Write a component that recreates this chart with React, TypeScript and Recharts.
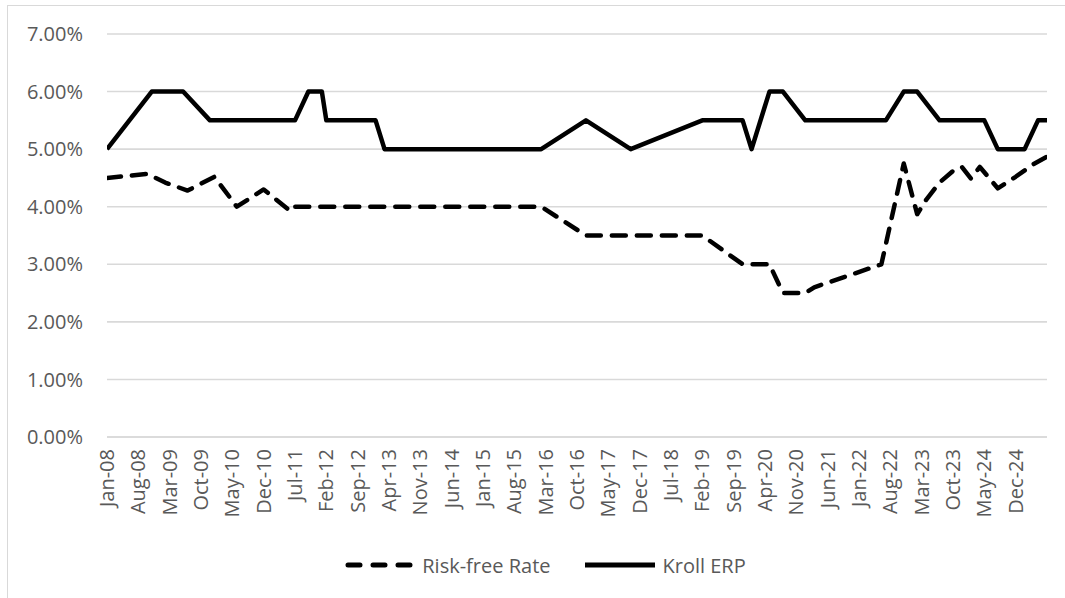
import { LineChart, Line, XAxis, YAxis, CartesianGrid, Legend } from "recharts"

const MONTHS = ["Jan", "Feb", "Mar", "Apr", "May", "Jun", "Jul", "Aug", "Sep", "Oct", "Nov", "Dec"]

// category labels shown on the x axis (every 7th month)
const xTickLabels = [
  "Jan-08", "Aug-08", "Mar-09", "Oct-09", "May-10", "Dec-10", "Jul-11", "Feb-12", "Sep-12", "Apr-13",
  "Nov-13", "Jun-14", "Jan-15", "Aug-15", "Mar-16", "Oct-16", "May-17", "Dec-17", "Jul-18", "Feb-19",
  "Sep-19", "Apr-20", "Nov-20", "Jun-21", "Jan-22", "Aug-22", "Mar-23", "Oct-23", "May-24", "Dec-24",
]
const yTicks = [0, 1, 2, 3, 4, 5, 6, 7]

// Risk-free rate (%)
const rfDates = [
  "Jan-08", "Oct-08", "Feb-09", "Jul-09", "Jan-10", "Jun-10", "Dec-10", "Jun-11", "Jul-11", "Feb-16",
  "Dec-16", "Feb-19", "Nov-19", "May-20", "Aug-20", "Jan-21", "Mar-21", "Jun-22", "Nov-22", "Feb-23",
  "Apr-23", "Jul-23", "Oct-23", "Dec-23", "Feb-24", "Apr-24", "Aug-24", "Dec-24", "Apr-25", "Jul-25",
]
const rfValues = [
  4.5, 4.57, 4.42, 4.28, 4.52, 4.0, 4.3, 3.92, 4.0, 4.0,
  3.5, 3.5, 3.0, 3.0, 2.5, 2.5, 2.6, 3.0, 4.75, 3.87,
  4.12, 4.42, 4.62, 4.69, 4.49, 4.69, 4.32, 4.52, 4.74, 4.87,
]

// Kroll recommended equity risk premium (%)
const erpDates = [
  "Jan-08", "Nov-08", "Jun-09", "Dec-09", "Jul-11", "Oct-11", "Jan-12", "Feb-12", "Jan-13", "Mar-13",
  "Feb-16", "Dec-16", "Oct-17", "Feb-19", "Nov-19", "Jan-20", "May-20", "Aug-20", "Jan-21", "Jul-22",
  "Nov-22", "Feb-23", "Jul-23", "May-24", "Aug-24", "Feb-25", "May-25", "Jul-25",
]
const erpValues = [
  5.0, 6.0, 6.0, 5.5, 5.5, 6.0, 6.0, 5.5, 5.5, 5.0,
  5.0, 5.5, 5.0, 5.5, 5.5, 5.0, 6.0, 6.0, 5.5, 5.5,
  6.0, 6.0, 5.5, 5.5, 5.0, 5.0, 5.5, 5.5,
]

const FONT = "'Open Sans', sans-serif"
const TEXT = "#595959"
const GRID = "#d9d9d9"

const monthIndex = (label: string) => {
  const [mon, yy] = label.split("-")
  return (Number(yy) - 8) * 12 + MONTHS.indexOf(mon)
}
const monthLabel = (idx: number) =>
  MONTHS[idx % 12] + "-" + String(8 + Math.floor(idx / 12)).padStart(2, "0")

const rfData = rfDates.map((d, i) => ({ m: monthIndex(d), v: rfValues[i] }))
const erpData = erpDates.map((d, i) => ({ m: monthIndex(d), v: erpValues[i] }))
const xTicks = xTickLabels.map(monthIndex)

const XTick = (props: any) => {
  const { x, y, payload } = props
  return (
    <g transform={`translate(${x},${y})`}>
      <text transform="rotate(-90)" textAnchor="end" dy="0.35em" fontSize={20} fontFamily={FONT} fill={TEXT}>
        {monthLabel(payload.value)}
      </text>
    </g>
  )
}

const LegendBox = () => (
  <div
    style={{
      height: 30,
      display: "flex",
      alignItems: "center",
      justifyContent: "center",
      paddingLeft: 43,
      fontFamily: FONT,
      fontSize: 20,
      color: TEXT,
    }}
  >
    <svg width={72} height={12}>
      <line x1={4} y1={6} x2={68} y2={6} stroke="#000" strokeWidth={5} strokeDasharray="12 13" strokeLinecap="round" />
    </svg>
    <span style={{ marginLeft: 6 }}>Risk-free Rate</span>
    <svg width={74} height={12} style={{ marginLeft: 32 }}>
      <line x1={2} y1={6} x2={72} y2={6} stroke="#000" strokeWidth={5} />
    </svg>
    <span style={{ marginLeft: 6 }}>Kroll ERP</span>
  </div>
)

export default function App() {
  return (
    <div style={{ position: "absolute", left: 0, top: 0, width: 1065, height: 598, overflow: "hidden", background: "#fff" }}>
      <div
        style={{
          position: "absolute",
          left: 7,
          top: 5,
          width: 1100,
          height: 700,
          border: `1px solid ${GRID}`,
        }}
      />
      <div style={{ position: "absolute", left: 0, top: 0 }}>
        <LineChart width={1065} height={598} margin={{ top: 34, right: 18, left: 0, bottom: 18 }}>
          <CartesianGrid vertical={false} stroke={GRID} strokeWidth={1.6} />
          <XAxis
            dataKey="m"
            type="number"
            domain={["dataMin", "dataMax"]}
            ticks={xTicks}
            interval={0}
            height={113}
            tick={<XTick />}
            tickSize={0}
            tickMargin={12}
            axisLine={{ stroke: GRID, strokeWidth: 1.6 }}
            tickLine={false}
            allowDataOverflow
          />
          <YAxis
            domain={[0, 7]}
            ticks={yTicks}
            width={107}
            tickSize={0}
            tickMargin={24}
            axisLine={false}
            tickLine={false}
            tickFormatter={(v: number) => v.toFixed(2) + "%"}
            tick={{ fontSize: 20, fontFamily: FONT, fill: TEXT }}
          />
          <Legend verticalAlign="bottom" height={30} content={() => <LegendBox />} />
          <Line
            data={rfData}
            dataKey="v"
            name="Risk-free Rate"
            type="linear"
            stroke="#000"
            strokeWidth={4.5}
            strokeDasharray="14 11"
            strokeLinecap="round"
            strokeLinejoin="round"
            dot={false}
            activeDot={false}
            isAnimationActive={false}
          />
          <Line
            data={erpData}
            dataKey="v"
            name="Kroll ERP"
            type="linear"
            stroke="#000"
            strokeWidth={4.5}
            strokeLinejoin="round"
            dot={false}
            activeDot={false}
            isAnimationActive={false}
          />
        </LineChart>
      </div>
    </div>
  )
}
